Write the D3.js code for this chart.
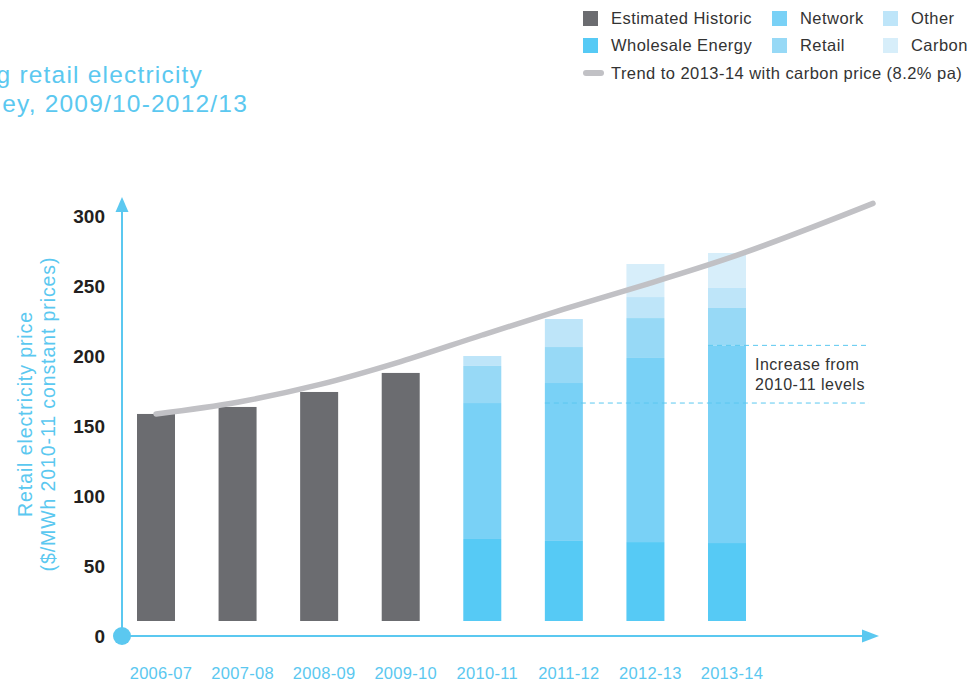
<!DOCTYPE html>
<html>
<head>
<meta charset="utf-8">
<script src="https://cdn.jsdelivr.net/npm/d3@7"></script>
<style>
  body { margin: 0; background: #fff; }
  svg { display: block; font-family: "Helvetica Neue", Helvetica, Arial, "Liberation Sans", sans-serif; }
</style>
</head>
<body>
<script>
// chart values
var periods = ["2006-07", "2007-08", "2008-09", "2009-10", "2010-11", "2011-12", "2012-13", "2013-14"];
var historic = [158.6, 163.6, 174.3, 187.9];           // first four periods
var wholesale = [69.3, 67.9, 67.1, 66.4];              // last four periods
var network = [97.1, 112.8, 131.5, 141.2];
var retail = [26.5, 25.7, 28.5, 26.7];
var other = [7.1, 20.0, 15.0, 14.3];
var carbon = [0, 0, 23.6, 25.0];
var trendIdx = [0, 1, 2, 3, 4, 5, 6, 7, 8.79];
var trendVal = [158.6, 167, 179.5, 196, 215, 233.5, 251, 269.5, 309];
var yTicks = [0, 50, 100, 150, 200, 250, 300];

var seriesNames = ["Wholesale Energy", "Network", "Retail", "Other", "Carbon"];
var colors = {
  "Estimated Historic": "#6b6c70",
  "Wholesale Energy": "#56caf5",
  "Network": "#79d1f6",
  "Retail": "#97d9f6",
  "Other": "#bee5f9",
  "Carbon": "#d7eefa"
};
var blue = "#5bc8f0";

var width = 968, height = 681;
var svg = d3.select("body").append("svg")
  .attr("width", width)
  .attr("height", height);

var y = d3.scaleLinear().domain([0, 300]).range([636, 216]);
var x = d3.scaleLinear().domain([0, 7]).range([156, 727]); // period index -> bar centre
var barW = 38;
var baseGap = 15; // bars float a little above the axis in the original
var barBottom = y(0) - baseGap;

// title (cut off at the left in the original)
svg.append("text").attr("x", 203).attr("y", 83).attr("text-anchor", "end")
  .attr("fill", blue).style("font-size", "24.5px").style("letter-spacing", "1.2px")
  .text("g retail electricity");
svg.append("text").attr("x", 248).attr("y", 112).attr("text-anchor", "end")
  .attr("fill", blue).style("font-size", "24.5px").style("letter-spacing", "1.2px")
  .text("ey, 2009/10-2012/13");

// legend
var legendItems = [
  {name: "Estimated Historic", col: 0, row: 0},
  {name: "Wholesale Energy", col: 0, row: 1},
  {name: "Network", col: 1, row: 0},
  {name: "Retail", col: 1, row: 1},
  {name: "Other", col: 2, row: 0},
  {name: "Carbon", col: 2, row: 1}
];
var colX = [583, 772, 883];
var legend = svg.append("g").style("font-size", "16.5px").style("letter-spacing", "0.45px");
legendItems.forEach(function(d) {
  legend.append("rect")
    .attr("x", colX[d.col]).attr("y", 11 + d.row * 27)
    .attr("width", 15).attr("height", 15)
    .attr("fill", colors[d.name]);
  legend.append("text")
    .attr("x", colX[d.col] + 28).attr("y", 24 + d.row * 26.5)
    .attr("fill", "#333")
    .text(d.name);
});
legend.append("line")
  .attr("x1", 586).attr("x2", 601).attr("y1", 73).attr("y2", 73)
  .attr("stroke", "#c1c1c5").attr("stroke-width", 6).attr("stroke-linecap", "round");
legend.append("text")
  .attr("x", 611).attr("y", 79)
  .attr("fill", "#333")
  .text("Trend to 2013-14 with carbon price (8.2% pa)");

// axes
var axisX0 = 122;
svg.append("line")
  .attr("x1", axisX0).attr("x2", axisX0).attr("y1", y(0)).attr("y2", 205)
  .attr("stroke", blue).attr("stroke-width", 2);
svg.append("path")
  .attr("d", "M" + (axisX0 - 6.5) + ",212L" + axisX0 + ",197L" + (axisX0 + 6.5) + ",212Z")
  .attr("fill", blue);
svg.append("line")
  .attr("x1", axisX0).attr("x2", 866).attr("y1", y(0)).attr("y2", y(0))
  .attr("stroke", blue).attr("stroke-width", 2);
svg.append("path")
  .attr("d", "M862," + (y(0) - 6.5) + "L879," + y(0) + "L862," + (y(0) + 6.5) + "Z")
  .attr("fill", blue);
svg.append("circle")
  .attr("cx", axisX0).attr("cy", y(0)).attr("r", 9)
  .attr("fill", blue);

svg.append("g").selectAll("text")
  .data(yTicks)
  .enter().append("text")
  .attr("x", 105)
  .attr("y", function(d) { return y(d); })
  .attr("dy", "0.36em")
  .attr("text-anchor", "end")
  .attr("fill", "#231f20")
  .style("font-size", "19px")
  .style("font-weight", "bold")
  .text(function(d) { return d; });

svg.append("g").selectAll("text")
  .data(periods)
  .enter().append("text")
  .attr("x", function(d, i) { return x(i) + 5; })
  .attr("y", 679)
  .attr("text-anchor", "middle")
  .attr("fill", blue)
  .style("font-size", "16.5px")
  .style("letter-spacing", "0.3px")
  .text(function(d) { return d; });

var yTitle = svg.append("text")
  .attr("transform", "translate(36,414) rotate(-90)")
  .attr("text-anchor", "middle")
  .attr("fill", blue)
  .style("font-size", "19.5px")
  .style("letter-spacing", "0.9px");
yTitle.append("tspan").attr("x", 0).attr("dy", "-0.2em").text("Retail electricity price");
yTitle.append("tspan").attr("x", 0).attr("dy", "1.15em").text("($/MWh 2010-11 constant prices)");

// historic bars
svg.append("g").selectAll("rect")
  .data(historic)
  .enter().append("rect")
  .attr("x", function(d, i) { return x(i) - barW / 2; })
  .attr("y", function(d) { return y(d); })
  .attr("width", barW)
  .attr("height", function(d) { return barBottom - y(d); })
  .attr("fill", colors["Estimated Historic"]);

// stacked forecast bars
var rows = wholesale.map(function(w, i) {
  return {
    idx: historic.length + i,
    "Wholesale Energy": w,
    "Network": network[i],
    "Retail": retail[i],
    "Other": other[i],
    "Carbon": carbon[i]
  };
});
var stack = d3.stack().keys(seriesNames)(rows);

svg.append("g").selectAll("g")
  .data(stack)
  .enter().append("g")
  .attr("fill", function(s) { return colors[s.key]; })
  .selectAll("rect")
  .data(function(s) { return s.filter(function(p) { return p[1] > p[0]; }); })
  .enter().append("rect")
  .attr("x", function(p) { return x(p.data.idx) - barW / 2; })
  .attr("y", function(p) { return y(p[1]); })
  .attr("width", barW)
  .attr("height", function(p) { return Math.min(y(p[0]), barBottom) - y(p[1]); });

// dashed reference levels: network top in 2010-11 and 2013-14
var networkTops = stack[1];
var lowLevel = networkTops[0][1];
var highLevel = networkTops[3][1];
var dashEnd = x(8.74);
svg.append("line")
  .attr("x1", x(5) - barW / 2).attr("x2", dashEnd)
  .attr("y1", y(lowLevel)).attr("y2", y(lowLevel))
  .attr("stroke", blue).attr("stroke-width", 1).attr("stroke-dasharray", "5,4");
svg.append("line")
  .attr("x1", x(7) - barW / 2).attr("x2", dashEnd)
  .attr("y1", y(highLevel)).attr("y2", y(highLevel))
  .attr("stroke", blue).attr("stroke-width", 1).attr("stroke-dasharray", "5,4");

var note = svg.append("g").attr("fill", "#333")
  .style("font-size", "16px").style("letter-spacing", "0.5px");
note.append("text").attr("x", 755).attr("y", 370).text("Increase from");
note.append("text").attr("x", 755).attr("y", 390).text("2010-11 levels");

// trend line
var line = d3.line()
  .x(function(d, i) { return x(trendIdx[i]); })
  .y(function(d) { return y(d); })
  .curve(d3.curveMonotoneX);
svg.append("path")
  .datum(trendVal)
  .attr("d", line)
  .attr("fill", "none")
  .attr("stroke", "#c1c1c5")
  .attr("stroke-width", 5.5)
  .attr("stroke-linecap", "round");
</script>
</body>
</html>
